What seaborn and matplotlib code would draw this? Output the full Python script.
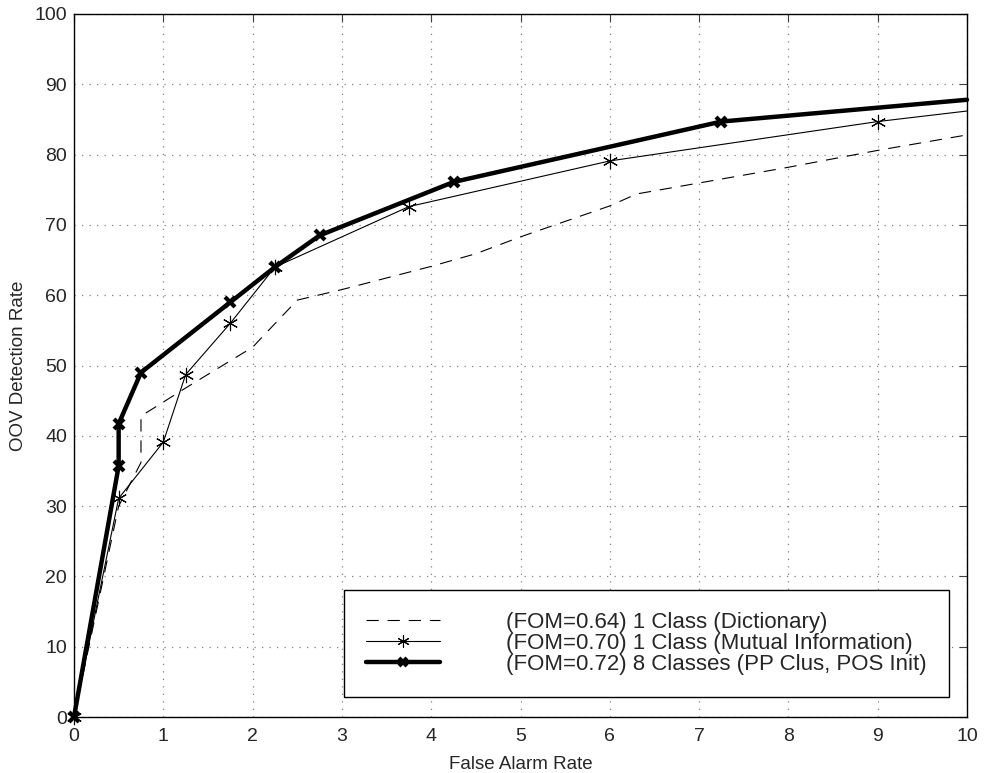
import numpy as np
import pandas as pd
import matplotlib
matplotlib.use("Agg")
import matplotlib.pyplot as plt
import seaborn as sns

# False alarm rate / OOV detection rate for the three systems
far_dict = [0, 0.5, 0.75, 0.75, 1.25, 2.0, 2.5, 3.0, 4.0, 4.5, 5.0, 6.0, 6.3, 8.0, 9.0, 10.0]
det_dict = [0, 30.0, 36.2, 42.8, 46.8, 52.6, 59.3, 60.8, 64.1, 65.9, 68.3, 72.7, 74.4, 78.2, 80.6, 82.8]

far_mi = [0, 0.5, 1.0, 1.25, 1.75, 2.25, 3.75, 6.0, 9.0, 10.0]
det_mi = [0, 31.1, 39.1, 48.7, 56.0, 64.0, 72.6, 79.1, 84.7, 86.2]

far_8c = [0, 0.5, 0.5, 0.75, 1.75, 2.25, 2.75, 4.25, 7.25, 10.0]
det_8c = [0, 35.7, 41.7, 49.0, 59.0, 64.0, 68.5, 76.1, 84.7, 87.8]

labels = [
    "(FOM=0.64) 1 Class (Dictionary)",
    "(FOM=0.70) 1 Class (Mutual Information)",
    "(FOM=0.72) 8 Classes (PP Clus, POS Init)",
]

sns.set_style("white")
plt.rcParams["font.family"] = ["Liberation Sans", "DejaVu Sans"]

fig = plt.figure(figsize=(9.84, 7.73), dpi=100)
ax = fig.add_axes([74 / 984, 56 / 773, 893 / 984, 703 / 773])

sns.lineplot(x=far_dict, y=det_dict, ax=ax, estimator=None, sort=False,
             color="black", linewidth=0.8, label=labels[0])
ax.lines[-1].set_dashes((11, 8))
# last point of each marked curve is the axis end, not a measured point
sns.lineplot(x=far_mi, y=det_mi, ax=ax, estimator=None, sort=False,
             color="black", linewidth=0.8, marker=(6, 2, 0), markersize=11,
             markeredgewidth=0.8, markeredgecolor="black",
             markevery=slice(0, len(far_mi) - 1), clip_on=False, label=labels[1])
sns.lineplot(x=far_8c, y=det_8c, ax=ax, estimator=None, sort=False,
             color="black", linewidth=3.2, marker="x", markersize=7,
             markeredgewidth=3, markeredgecolor="black",
             markevery=slice(0, len(far_8c) - 1), clip_on=False, label=labels[2])

ax.set_xlim(0, 10)
ax.set_ylim(0, 100)
ax.set_xticks(np.arange(0, 11, 1))
ax.set_yticks(np.arange(0, 101, 10))
ax.grid(True, color="#808080", linestyle=(0, (1, 5)), linewidth=0.9)
for s in ax.spines.values():
    s.set_color("black")
    s.set_linewidth(1.0)
ax.tick_params(direction="in", length=6, width=0.8, color="#404040",
               top=True, right=True, labelsize=14)
ax.tick_params(axis="x", pad=8)
ax.tick_params(axis="y", pad=5)

ax.set_xlabel("False Alarm Rate", fontsize=13.5, labelpad=8)
ax.set_ylabel("OOV Detection Rate", fontsize=13.5, labelpad=5)

leg = ax.legend(loc="lower right", bbox_to_anchor=(0.98, 0.028),
                borderaxespad=0, fontsize=16, frameon=True, fancybox=False,
                edgecolor="black", framealpha=1, handlelength=3.3,
                handletextpad=3.0, labelspacing=0.0, borderpad=1.0)
leg.get_frame().set_linewidth(1.0)
for h in leg.get_lines():
    h.set_markevery([1])
    h.set_markersize(h.get_markersize() * 0.8)

fig.savefig("out.png", dpi=100)
